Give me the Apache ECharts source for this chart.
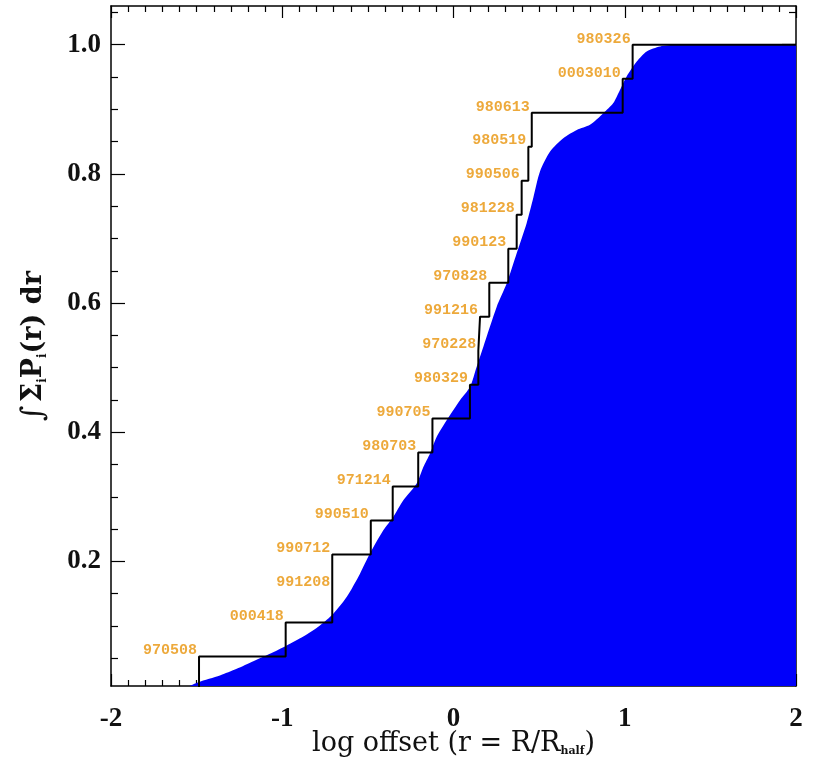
<!DOCTYPE html>
<html>
<head>
<meta charset="utf-8">
<script src="https://cdn.jsdelivr.net/npm/echarts@6/dist/echarts.min.js"></script>
<style>
  html, body { margin: 0; padding: 0; background: #ffffff; }
  #chart { width: 816px; height: 761px; }
</style>
</head>
<body>
<div id="chart"></div>
<script>
// Observation dates, in the order they enter the cumulative distribution
const stepLabels = ['970508', '000418', '991208', '990712', '990510', '971214', '980703',
  '990705', '980329', '970228', '991216', '970828', '990123', '981228', '990506',
  '980519', '980613', '0003010', '980326'];
// log offset of each object (where the staircase rises)
const stepX = [-1.486, -0.980, -0.708, -0.708, -0.483, -0.355, -0.206, -0.123, 0.096,
  0.145, 0.155, 0.209, 0.320, 0.369, 0.398, 0.437, 0.457, 0.988, 1.046];

// Summed probability distribution, integrated
const curveX = [-1.60, -1.49, -1.364, -1.266, -1.169, -1.072, -0.974, -0.877, -0.780,
  -0.702, -0.624, -0.546, -0.488, -0.410, -0.352, -0.293, -0.215, -0.176, -0.137,
  -0.098, -0.040, 0.038, 0.096, 0.135, 0.174, 0.252, 0.311, 0.369, 0.427, 0.466,
  0.505, 0.564, 0.641, 0.720, 0.797, 0.875, 0.933, 0.972, 1.011, 1.070, 1.128,
  1.206, 1.303, 1.40, 1.556, 2.0];
const curveY = [0.000, 0.0129, 0.0233, 0.0336, 0.0454, 0.0569, 0.0698, 0.0837, 0.1008,
  0.1189, 0.1447, 0.181, 0.212, 0.248, 0.2687, 0.2946, 0.3205, 0.346, 0.367,
  0.393, 0.4186, 0.4496, 0.470, 0.501, 0.532, 0.594, 0.6305, 0.677, 0.7235, 0.763,
  0.8036, 0.8346, 0.8553, 0.868, 0.876, 0.894, 0.9096, 0.930, 0.951, 0.974, 0.9896,
  0.9974, 1.0, 1.0, 1.0, 1.0];

const xTicks = [-2, -1, 0, 1, 2];
const yTicks = [0.2, 0.4, 0.6, 0.8, 1.0];
const yMinorTicks = [0.05, 0.1, 0.15, 0.25, 0.3, 0.35, 0.45, 0.5, 0.55, 0.65, 0.7, 0.75,
  0.85, 0.9, 0.95, 1.05];

const X_MIN = -2, X_MAX = 2, Y_MIN = 0.007, Y_MAX = 1.06;

// Cumulative fraction of objects at each rise of the staircase
const nObj = stepLabels.length;
const stairData = [[X_MIN, 0]];
const labelData = [];
stepX.forEach((x, i) => {
  const level = (i + 1) / nObj;
  stairData.push([x, level]);
  labelData.push({ value: [x, level], name: stepLabels[i] });
});
stairData.push([X_MAX, 1]);

const curveData = curveX.map((x, i) => [x, curveY[i]]);

const tickFont = { fontFamily: 'Liberation Serif', fontWeight: 'bold', fontSize: 27, color: '#111' };
const lineStyleAxis = { color: '#000', width: 1.5 };

function xAxisDef(pos, showLabels) {
  return {
    type: 'value', position: pos, min: X_MIN, max: X_MAX, interval: 1,
    axisLine: { show: true, onZero: false, lineStyle: lineStyleAxis },
    axisTick: { show: true, inside: true, length: 12, lineStyle: { color: '#000', width: 1.2 } },
    minorTick: { show: true, splitNumber: 10, length: 6, lineStyle: { color: '#000', width: 1.2 } },
    splitLine: { show: false },
    axisLabel: showLabels
      ? Object.assign({ margin: 20, customValues: xTicks, formatter: v => String(v) }, tickFont)
      : { show: false }
  };
}

function yAxisDef(pos, values, len, showLine, showLabels) {
  return {
    type: 'value', position: pos, min: Y_MIN, max: Y_MAX,
    axisLine: { show: showLine, onZero: false, lineStyle: lineStyleAxis },
    axisTick: { show: true, inside: true, length: len, customValues: values,
      lineStyle: { color: '#000', width: 1.2 } },
    splitLine: { show: false },
    axisLabel: showLabels
      ? Object.assign({ margin: 10, customValues: values, formatter: v => v.toFixed(1) }, tickFont)
      : { show: false }
  };
}

const xTitle = Object.assign(xAxisDef('bottom', true), {
  name: '{t|log offset (r = R/R}{s|half}{t|)}',
  nameLocation: 'middle', nameGap: 44, nameMoveOverlap: false,
  nameTextStyle: {
    rich: {
      t: { fontFamily: 'DejaVu Serif', fontSize: 27, color: '#111' },
      s: { fontFamily: 'DejaVu Serif', fontSize: 11, fontWeight: 'bold', color: '#111', verticalAlign: 'bottom', padding: [10, 0, 0, 0] }
    }
  }
});

const yTitle = Object.assign(yAxisDef('left', yTicks, 14, true, true), {
  name: '{i|\u222B} {t|\u03A3}{s|i}{t|P}{s|i}{t|(r) dr}',
  nameLocation: 'middle', nameGap: 62, nameRotate: 90,
  nameTextStyle: {
    rich: {
      i: { fontFamily: 'DejaVu Serif', fontStyle: 'italic', fontSize: 30, color: '#111' },
      t: { fontFamily: 'DejaVu Serif', fontWeight: 'bold', fontSize: 27, color: '#111' },
      s: { fontFamily: 'DejaVu Serif', fontWeight: 'bold', fontSize: 12, color: '#111', verticalAlign: 'bottom', padding: [12, 0, 0, 0] }
    }
  }
});

const chart = echarts.init(document.getElementById('chart'), null, { renderer: 'canvas' });
chart.setOption({
  animation: false,
  backgroundColor: '#ffffff',
  grid: { left: 111, right: 20, top: 6, bottom: 75, containLabel: false, outerBoundsMode: 'none' },
  xAxis: [xTitle, xAxisDef('top', false)],
  yAxis: [
    yTitle,
    yAxisDef('left', yMinorTicks, 7, false, false),
    yAxisDef('right', yTicks, 14, true, false),
    yAxisDef('right', yMinorTicks, 7, false, false)
  ],
  series: [
    {
      type: 'line', xAxisIndex: 0, yAxisIndex: 0,
      data: curveData, showSymbol: false, smooth: 0.25,
      lineStyle: { width: 0 },
      areaStyle: { color: '#0000FA', opacity: 1, origin: 'start' },
      z: 2
    },
    {
      type: 'line', xAxisIndex: 0, yAxisIndex: 0,
      data: stairData, step: 'end', showSymbol: false,
      lineStyle: { color: '#000', width: 2 },
      z: 3
    },
    {
      type: 'scatter', xAxisIndex: 0, yAxisIndex: 0,
      data: labelData, symbolSize: 0,
      label: {
        show: true, position: 'left', distance: 2,
        formatter: p => p.name,
        fontFamily: 'Liberation Mono', fontWeight: 'bold', fontSize: 15, color: '#E8940A',
        offset: [0, -6]
      },
      z: 4
    }
  ]
});
</script>
</body>
</html>
